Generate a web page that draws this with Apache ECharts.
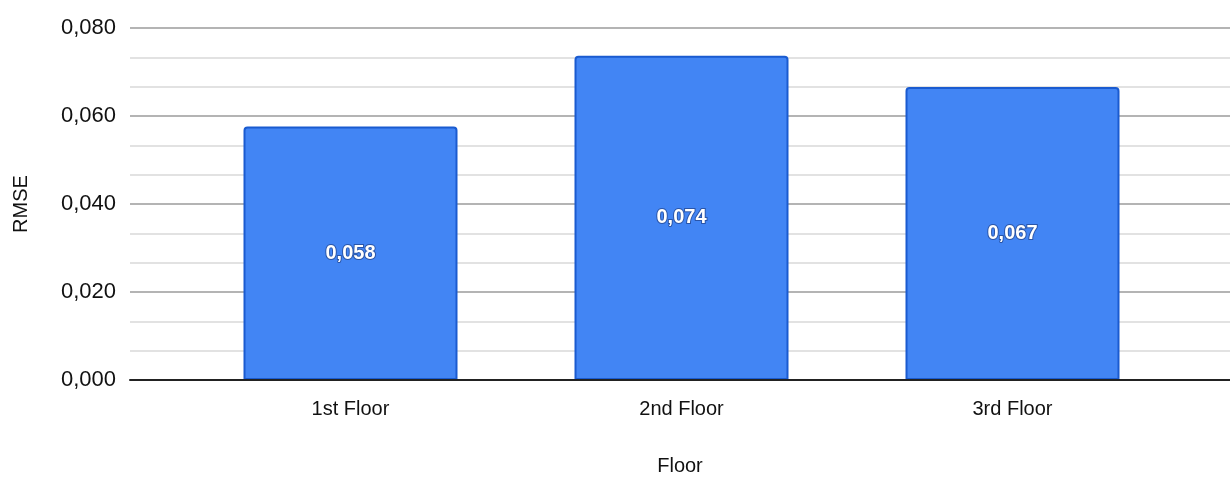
<!DOCTYPE html>
<html>
<head>
<meta charset="utf-8">
<script src="https://cdn.jsdelivr.net/npm/echarts@6/dist/echarts.min.js"></script>
<style>
  html, body { margin: 0; padding: 0; background: #fff; }
  #chart { width: 1230px; height: 478px; }
</style>
</head>
<body>
<div id="chart"></div>
<script>
// data
const floors = ['1st Floor', '2nd Floor', '3rd Floor'];
const rmse = [0.0576, 0.0737, 0.0666];
const yTicks = [0, 0.02, 0.04, 0.06, 0.08];

const FONT = '"Liberation Sans Narrow", "Liberation Sans", Arial, sans-serif';
const fmt = v => v.toFixed(3).replace('.', ',');

const chart = echarts.init(document.getElementById('chart'), null, { renderer: 'canvas' });

chart.setOption({
    animation: false,
    grid: [
        // background grid: y labels, grid lines, baseline
        { left: 130, right: 0, top: 28, bottom: 98, outerBoundsMode: 'none', containLabel: false },
        // bars
        { left: 185, width: 993, top: 28, bottom: 98, outerBoundsMode: 'none', containLabel: false }
    ],
    xAxis: [
        {
            type: 'category', gridIndex: 0, data: [''],
            axisLine: { show: true, lineStyle: { color: '#222', width: 2 } },
            axisTick: { show: false }, axisLabel: { show: false },
            name: 'Floor', nameLocation: 'middle', nameGap: 76,
            nameTextStyle: { fontFamily: FONT, fontSize: 20, color: '#111' },
            z: 5
        },
        {
            type: 'category', gridIndex: 1, data: floors,
            axisLine: { show: false }, axisTick: { show: false },
            axisLabel: { margin: 19, fontFamily: FONT, fontSize: 20, color: '#111' }
        }
    ],
    yAxis: [
        {
            type: 'value', gridIndex: 0,
            min: yTicks[0], max: yTicks[yTicks.length - 1], interval: 0.02,
            axisLine: { show: false }, axisTick: { show: false },
            axisLabel: { formatter: fmt, margin: 14, fontFamily: FONT, fontSize: 22, color: '#111' },
            splitLine: { lineStyle: { color: '#b4b4b4', width: 2 } },
            minorTick: { show: false, splitNumber: 3 },
            minorSplitLine: { show: true, lineStyle: { color: '#e2e2e2', width: 2 } },
            name: 'RMSE', nameLocation: 'middle', nameGap: 99, nameRotate: 90,
            nameTextStyle: { fontFamily: FONT, fontSize: 20, color: '#111' }
        },
        {
            type: 'value', gridIndex: 1,
            min: yTicks[0], max: yTicks[yTicks.length - 1], interval: 0.02,
            show: false, splitLine: { show: false }
        }
    ],
    series: [{
        type: 'bar',
        xAxisIndex: 1, yAxisIndex: 1,
        data: rmse,
        barWidth: 214,
        z: 3,
        itemStyle: {
            color: '#4285f4',
            borderColor: '#1a5bd0',
            borderWidth: 2,
            borderRadius: [3, 3, 0, 0]
        },
        label: {
            show: true, position: 'inside',
            formatter: p => fmt(p.value),
            fontFamily: FONT, fontSize: 20, fontWeight: 'bold', color: '#fff',
            textBorderColor: '#2a55a8', textBorderWidth: 2
        }
    }]
});
</script>
</body>
</html>
